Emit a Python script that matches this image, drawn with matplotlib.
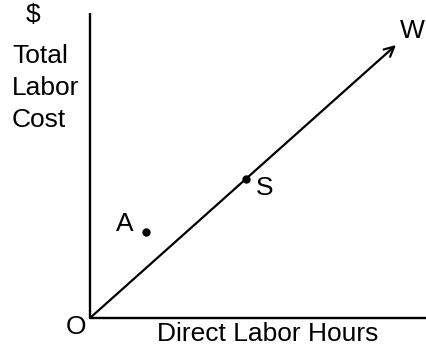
import matplotlib.pyplot as plt

plt.rcParams['font.family'] = ['Liberation Sans', 'DejaVu Sans']

# data coords: origin O at (0, 0)
line_start = (0, 0)
line_end = (306, 273)
point_s = (156, 139)
point_a = (56, 86)
y_labels = ["$", "Total", "Labor", "Cost"]

fig = plt.figure(figsize=(4.27, 3.47), dpi=100)
ax = fig.add_axes([0, 0, 1, 1])
ax.set_xlim(-90, 337)
ax.set_ylim(-29, 318)
ax.axis('off')

# axes
ax.plot([0, 0], [0, 305], color='black', lw=1.7, solid_capstyle='butt')
ax.plot([0, 337], [0, 0], color='black', lw=1.7, solid_capstyle='butt')

# line OW with arrow
ax.annotate('', xy=line_end, xytext=line_start,
            arrowprops=dict(arrowstyle='->,head_length=0.7,head_width=0.35',
                            color='black', lw=1.6, shrinkA=0, shrinkB=0))

ax.plot(*point_s, 'o', color='black', ms=5)
ax.plot(*point_a, 'o', color='black', ms=5)

fs = 19
ax.text(point_s[0] + 10, point_s[1] - 9, "S", fontsize=fs, va='center', ha='left')
ax.text(point_a[0] - 12, point_a[1] + 8, "A", fontsize=fs, va='center', ha='right')
ax.text(line_end[0] + 16, line_end[1] + 14, "W", fontsize=fs, va='center', ha='center')
ax.text(-14, -9, "O", fontsize=fs, va='center', ha='center')
ax.text(178, -16, "Direct Labor Hours", fontsize=fs, va='center', ha='center')

ax.text(-57, 303, y_labels[0], fontsize=fs, va='center', ha='center')
for i, lab in enumerate(y_labels[1:]):
    ax.text(-78, 262 - 32 * i, lab, fontsize=fs, va='center', ha='left')

fig.savefig('out.png', dpi=100)
